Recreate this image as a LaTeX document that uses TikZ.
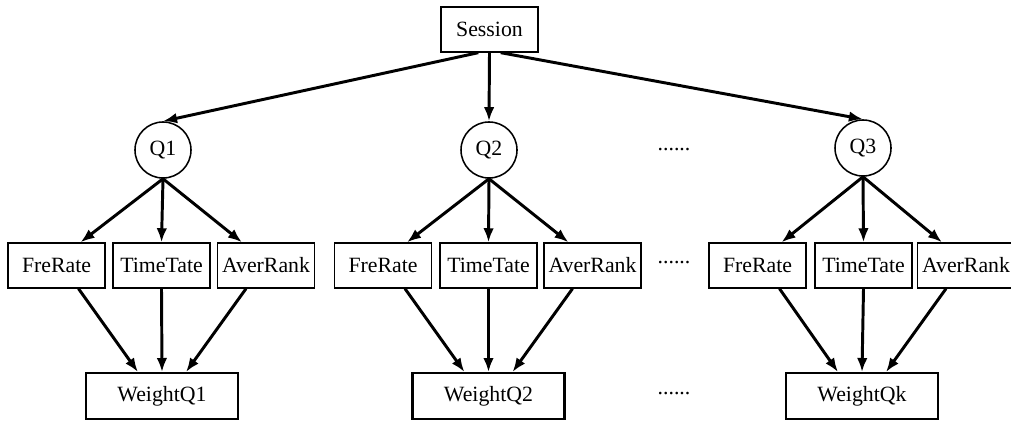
\documentclass[tikz,border=0pt]{standalone}
\usepackage{fontspec}
\setmainfont{Liberation Serif}
\usepackage{tikz}
\usetikzlibrary{arrows.meta}

\begin{document}
\begin{tikzpicture}[x=0.025cm,y=-0.025cm,
  font=\fontsize{15.5}{18}\selectfont,
  box/.style={draw,line width=1.1pt,minimum width=2.42cm,minimum height=1.12cm,inner sep=0pt},
  wbox/.style={draw,line width=1.6pt,minimum width=3.8cm,minimum height=1.14cm,inner sep=0pt},
  qnode/.style={draw,circle,line width=1.1pt,minimum size=1.4cm,inner sep=0pt},
  link/.style={line width=2.1pt,-{Latex[length=10pt,width=7.5pt]}}]
\useasboundingbox (0,0) rectangle (1011,421);

\node[box] (sess) at (489.5,29.5) {Session};

\node[qnode] (q1) at (163,150) {Q1};
\node[qnode] (q2) at (489,150) {Q2};
\node[qnode] (q3) at (863,148) {Q3};
\node (dots1) at (674,150) {......};

\node[box] (f1) at (56.5,265.5) {FreRate};
\node[box] (t1) at (161.5,265.5) {TimeTate};
\node[box] (a1) at (266,265.5) {AverRank};

\node[box] (f2) at (383,265.5) {FreRate};
\node[box] (t2) at (488.5,265.5) {TimeTate};
\node[box] (a2) at (592.5,265.5) {AverRank};

\node (dots2) at (674,263) {......};

\node[box] (f3) at (757.5,265.5) {FreRate};
\node[box] (t3) at (863.5,265.5) {TimeTate};
\node[box] (a3) at (966,265.5) {AverRank};

\node[wbox] (w1) at (162,396) {WeightQ1};
\node[wbox] (w2) at (488.5,396) {WeightQ2};
\node (dots3) at (674,394) {......};
\node[wbox] (wk) at (862,396) {WeightQk};

% session to queries
\draw[link] ([xshift=-0.28cm]sess.south) -- (q1.north);
\draw[link] (sess.south) -- (q2.north);
\draw[link] ([xshift=0.28cm]sess.south) -- (q3.north);

% queries to features
\draw[link] (q1.south) -- ([xshift=0.6cm]f1.north);
\draw[link] (q1.south) -- (t1.north);
\draw[link] (q1.south) -- ([xshift=-0.6cm]a1.north);
\draw[link] (q2.south) -- ([xshift=0.6cm]f2.north);
\draw[link] (q2.south) -- (t2.north);
\draw[link] (q2.south) -- ([xshift=-0.6cm]a2.north);
\draw[link] (q3.south) -- ([xshift=0.6cm]f3.north);
\draw[link] (q3.south) -- (t3.north);
\draw[link] (q3.south) -- ([xshift=-0.6cm]a3.north);

% features to weights
\draw[link] ([xshift=0.55cm]f1.south) -- ([xshift=-0.6cm]w1.north);
\draw[link] (t1.south) -- (w1.north);
\draw[link] ([xshift=-0.5cm]a1.south) -- ([xshift=0.6cm]w1.north);
\draw[link] ([xshift=0.55cm]f2.south) -- ([xshift=-0.6cm]w2.north);
\draw[link] (t2.south) -- (w2.north);
\draw[link] ([xshift=-0.5cm]a2.south) -- ([xshift=0.6cm]w2.north);
\draw[link] ([xshift=0.55cm]f3.south) -- ([xshift=-0.6cm]wk.north);
\draw[link] (t3.south) -- (wk.north);
\draw[link] ([xshift=-0.5cm]a3.south) -- ([xshift=0.6cm]wk.north);

\end{tikzpicture}
\end{document}
